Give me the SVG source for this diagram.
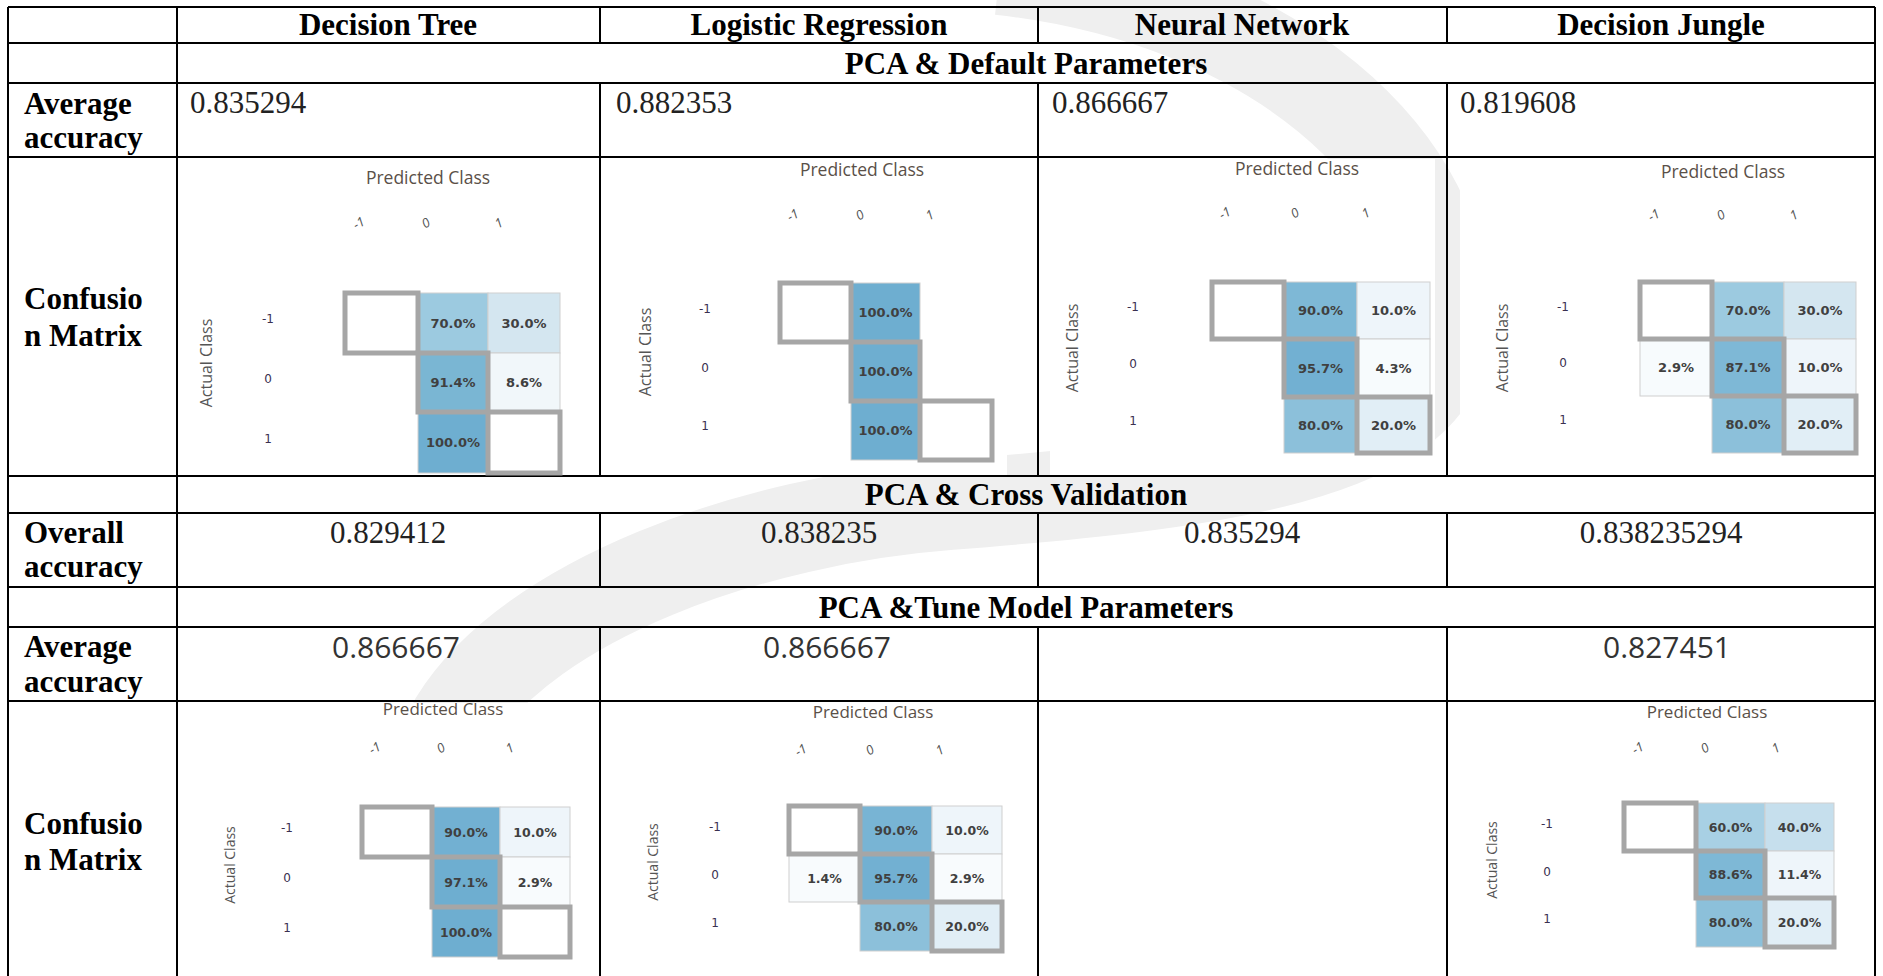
<svg xmlns="http://www.w3.org/2000/svg" width="1883" height="976" viewBox="0 0 1883 976">
<style>
.hd{font-family:"Liberation Serif",serif;font-weight:bold;font-size:31px;fill:#000}
.val{font-family:"Liberation Serif",serif;font-size:31px;fill:#222}
.sval{font-family:"Open Sans",sans-serif;font-size:30px;fill:#333}
.pc{font-family:"Open Sans",sans-serif;font-size:17.5px;fill:#5a5048}
.pcs{font-family:"Open Sans",sans-serif;font-size:17px;fill:#5a5048}
.ac{font-family:"Open Sans",sans-serif;font-size:16px;fill:#555}
.acs{font-family:"Open Sans",sans-serif;font-size:14px;fill:#555}
.cl{font-family:"Open Sans",sans-serif;font-size:13px;font-style:italic;fill:#555}
.rl{font-family:"DejaVu Sans",sans-serif;font-size:12px;fill:#3a3050}
.ct{font-family:"DejaVu Sans",sans-serif;font-weight:bold;font-size:13px;fill:#404040;text-anchor:middle}
.cts{font-family:"DejaVu Sans",sans-serif;font-weight:bold;font-size:12.5px;fill:#404040;text-anchor:middle}
.thin{stroke:#cfcfcf;stroke-width:1}
.thick{stroke:#a6a6a6;stroke-width:5}
.grid{stroke:#000;stroke-width:2;fill:none}
.mid{text-anchor:middle}
.wm{fill:none;stroke:#efefef;stroke-width:90}
.shot{fill:#fff}
</style>
<rect width="1883" height="976" fill="#fff"/>

<g id="watermark">
<path class="wm" d="M1000,-30 C1270,0 1455,160 1445,330 C1440,460 1200,485 950,505 C750,520 530,600 455,720 C400,820 440,940 560,995"/>
</g>

<g id="screenshots">
<rect class="shot" x="180" y="159" width="402" height="316"/>
<rect class="shot" x="615" y="159" width="392" height="316"/>
<rect class="shot" x="1050" y="159" width="385" height="316"/>
<rect class="shot" x="1460" y="159" width="414" height="316"/>
<rect class="shot" x="180" y="703" width="410" height="273"/>
<rect class="shot" x="615" y="703" width="422" height="273"/>
<rect class="shot" x="1449" y="703" width="425" height="273"/>
</g>

<g id="connectors">
<path class="grid" d="M8,7H1875M8,43H1875M8,83H1875M8,157H1875M8,476H1875M8,513H1875M8,587H1875M8,627H1875M8,701H1875
M8,7V976M177,7V976M1875,7V976
M600,7V43M1038,7V43M1447,7V43
M600,83V476M1038,83V476M1447,83V476
M600,513V587M1038,513V587M1447,513V587
M600,627V976M1038,627V976M1447,627V976"/>
</g>

<g id="header">
<text class="hd mid" x="388" y="35">Decision Tree</text>
<text class="hd mid" x="819" y="35">Logistic Regression</text>
<text class="hd mid" x="1242" y="35">Neural Network</text>
<text class="hd mid" x="1661" y="35">Decision Jungle</text>
</g>

<g id="section-default"><text class="hd mid" x="1026" y="74">PCA &amp; Default Parameters</text></g>
<g id="section-cv"><text class="hd mid" x="1026" y="505">PCA &amp; Cross Validation</text></g>
<g id="section-tune"><text class="hd mid" x="1026" y="618">PCA &amp;Tune Model Parameters</text></g>

<g id="row-labels">
<text class="hd" x="24" y="114">Average</text>
<text class="hd" x="24" y="148">accuracy</text>
<text class="hd" x="24" y="309">Confusio</text>
<text class="hd" x="24" y="346">n Matrix</text>
<text class="hd" x="24" y="543">Overall</text>
<text class="hd" x="24" y="577">accuracy</text>
<text class="hd" x="24" y="657">Average</text>
<text class="hd" x="24" y="692">accuracy</text>
<text class="hd" x="24" y="834">Confusio</text>
<text class="hd" x="24" y="870">n Matrix</text>
</g>

<g id="values-default">
<text class="val" x="190" y="113">0.835294</text>
<text class="val" x="616" y="113">0.882353</text>
<text class="val" x="1052" y="113">0.866667</text>
<text class="val" x="1460" y="113">0.819608</text>
</g>
<g id="values-cv">
<text class="val mid" x="388" y="543">0.829412</text>
<text class="val mid" x="819" y="543">0.838235</text>
<text class="val mid" x="1242" y="543">0.835294</text>
<text class="val mid" x="1661" y="543">0.838235294</text>
</g>
<g id="values-tune">
<text class="sval mid" x="396" y="658">0.866667</text>
<text class="sval mid" x="827" y="658">0.866667</text>
<text class="sval mid" x="1667" y="658">0.827451</text>
</g>

<g id="cm-dt-default">
<text class="pc mid" x="428" y="184">Predicted Class</text>
<text class="cl mid" transform="translate(361,227) rotate(-30)">-1</text>
<text class="cl mid" transform="translate(428,227) rotate(-30)">0</text>
<text class="cl mid" transform="translate(501,227) rotate(-30)">1</text>
<text class="ac mid" transform="translate(212,363) rotate(-90)">Actual Class</text>
<text class="rl mid" x="268" y="323">-1</text>
<text class="rl mid" x="268" y="383">0</text>
<text class="rl mid" x="268" y="443">1</text>
<rect class="thin" x="418" y="293" width="70" height="60" fill="#9ccae0"/>
<rect class="thin" x="488" y="293" width="72" height="60" fill="#d4e6f0"/>
<rect class="thin" x="488" y="353" width="72" height="59" fill="#f1f7fa"/>
<rect class="thin" x="418" y="412" width="70" height="61" fill="#6eaed0"/>
<rect class="thick" x="345" y="293" width="73" height="60" fill="#fff"/>
<rect class="thick" x="418" y="353" width="70" height="59" fill="#7ab6d3"/>
<rect class="thick" x="488" y="412" width="72" height="61" fill="#fff"/>
<text class="ct" x="453" y="328">70.0%</text>
<text class="ct" x="524" y="328">30.0%</text>
<text class="ct" x="453" y="387">91.4%</text>
<text class="ct" x="524" y="387">8.6%</text>
<text class="ct" x="453" y="447">100.0%</text>
</g>

<g id="cm-lr-default">
<text class="pc mid" x="862" y="176">Predicted Class</text>
<text class="cl mid" transform="translate(795,219) rotate(-30)">-1</text>
<text class="cl mid" transform="translate(862,219) rotate(-30)">0</text>
<text class="cl mid" transform="translate(932,219) rotate(-30)">1</text>
<text class="ac mid" transform="translate(651,352) rotate(-90)">Actual Class</text>
<text class="rl mid" x="705" y="313">-1</text>
<text class="rl mid" x="705" y="372">0</text>
<text class="rl mid" x="705" y="430">1</text>
<rect class="thin" x="851" y="283" width="69" height="59" fill="#6eaed0"/>
<rect class="thin" x="851" y="401" width="69" height="59" fill="#6eaed0"/>
<rect class="thick" x="780" y="283" width="71" height="59" fill="#fff"/>
<rect class="thick" x="851" y="342" width="69" height="59" fill="#6eaed0"/>
<rect class="thick" x="920" y="401" width="72" height="59" fill="#fff"/>
<text class="ct" x="885.5" y="317">100.0%</text>
<text class="ct" x="885.5" y="376">100.0%</text>
<text class="ct" x="885.5" y="435">100.0%</text>
</g>

<g id="cm-nn-default">
<text class="pc mid" x="1297" y="175">Predicted Class</text>
<text class="cl mid" transform="translate(1227,217) rotate(-30)">-1</text>
<text class="cl mid" transform="translate(1297,217) rotate(-30)">0</text>
<text class="cl mid" transform="translate(1368,217) rotate(-30)">1</text>
<text class="ac mid" transform="translate(1078,348) rotate(-90)">Actual Class</text>
<text class="rl mid" x="1133" y="311">-1</text>
<text class="rl mid" x="1133" y="368">0</text>
<text class="rl mid" x="1133" y="425">1</text>
<rect class="thin" x="1284" y="282" width="73" height="57" fill="#7eb8d6"/>
<rect class="thin" x="1357" y="282" width="73" height="57" fill="#eef5fa"/>
<rect class="thin" x="1357" y="339" width="73" height="58" fill="#f7fbfd"/>
<rect class="thin" x="1284" y="397" width="73" height="56" fill="#8cc0da"/>
<rect class="thick" x="1212" y="282" width="72" height="57" fill="#fff"/>
<rect class="thick" x="1284" y="339" width="73" height="58" fill="#72b0d2"/>
<rect class="thick" x="1357" y="397" width="73" height="56" fill="#e1eef6"/>
<text class="ct" x="1320.5" y="315">90.0%</text>
<text class="ct" x="1393.5" y="315">10.0%</text>
<text class="ct" x="1320.5" y="372.5">95.7%</text>
<text class="ct" x="1393.5" y="372.5">4.3%</text>
<text class="ct" x="1320.5" y="429.5">80.0%</text>
<text class="ct" x="1393.5" y="429.5">20.0%</text>
</g>

<g id="cm-dj-default">
<text class="pc mid" x="1723" y="178">Predicted Class</text>
<text class="cl mid" transform="translate(1656,219) rotate(-30)">-1</text>
<text class="cl mid" transform="translate(1723,219) rotate(-30)">0</text>
<text class="cl mid" transform="translate(1796,219) rotate(-30)">1</text>
<text class="ac mid" transform="translate(1508,348) rotate(-90)">Actual Class</text>
<text class="rl mid" x="1563" y="311">-1</text>
<text class="rl mid" x="1563" y="367">0</text>
<text class="rl mid" x="1563" y="424">1</text>
<rect class="thin" x="1712" y="282" width="72" height="57" fill="#9ccae0"/>
<rect class="thin" x="1784" y="282" width="72" height="57" fill="#d4e6f0"/>
<rect class="thin" x="1640" y="339" width="72" height="57" fill="#f7fbfd"/>
<rect class="thin" x="1784" y="339" width="72" height="57" fill="#eef5fa"/>
<rect class="thin" x="1712" y="396" width="72" height="57" fill="#8cc0da"/>
<rect class="thick" x="1640" y="282" width="72" height="57" fill="#fff"/>
<rect class="thick" x="1712" y="339" width="72" height="57" fill="#7eb8d6"/>
<rect class="thick" x="1784" y="396" width="72" height="57" fill="#e1eef6"/>
<text class="ct" x="1748" y="315">70.0%</text>
<text class="ct" x="1820" y="315">30.0%</text>
<text class="ct" x="1676" y="372">2.9%</text>
<text class="ct" x="1748" y="372">87.1%</text>
<text class="ct" x="1820" y="372">10.0%</text>
<text class="ct" x="1748" y="429">80.0%</text>
<text class="ct" x="1820" y="429">20.0%</text>
</g>

<g id="cm-dt-tune">
<text class="pcs mid" x="443" y="715">Predicted Class</text>
<text class="cl mid" transform="translate(377,752) rotate(-30)">-1</text>
<text class="cl mid" transform="translate(443,752) rotate(-30)">0</text>
<text class="cl mid" transform="translate(512,752) rotate(-30)">1</text>
<text class="acs mid" transform="translate(235,865) rotate(-90)">Actual Class</text>
<text class="rl mid" x="287" y="832">-1</text>
<text class="rl mid" x="287" y="882">0</text>
<text class="rl mid" x="287" y="932">1</text>
<rect class="thin" x="432" y="807" width="68" height="50" fill="#72b0d2"/>
<rect class="thin" x="500" y="807" width="70" height="50" fill="#eef5fa"/>
<rect class="thin" x="500" y="857" width="70" height="50" fill="#f8fbfd"/>
<rect class="thin" x="432" y="907" width="68" height="50" fill="#6eaed0"/>
<rect class="thick" x="362" y="807" width="70" height="50" fill="#fff"/>
<rect class="thick" x="432" y="857" width="68" height="50" fill="#6eaed0"/>
<rect class="thick" x="500" y="907" width="70" height="50" fill="#fff"/>
<text class="cts" x="466" y="836.5">90.0%</text>
<text class="cts" x="535" y="836.5">10.0%</text>
<text class="cts" x="466" y="886.5">97.1%</text>
<text class="cts" x="535" y="886.5">2.9%</text>
<text class="cts" x="466" y="936.5">100.0%</text>
</g>

<g id="cm-lr-tune">
<text class="pcs mid" x="873" y="718">Predicted Class</text>
<text class="cl mid" transform="translate(803,754) rotate(-30)">-1</text>
<text class="cl mid" transform="translate(872,754) rotate(-30)">0</text>
<text class="cl mid" transform="translate(942,754) rotate(-30)">1</text>
<text class="acs mid" transform="translate(658,862) rotate(-90)">Actual Class</text>
<text class="rl mid" x="715" y="831">-1</text>
<text class="rl mid" x="715" y="879">0</text>
<text class="rl mid" x="715" y="927">1</text>
<rect class="thin" x="860" y="806" width="72" height="48" fill="#78b4d4"/>
<rect class="thin" x="932" y="806" width="70" height="48" fill="#eef5fa"/>
<rect class="thin" x="789" y="854" width="71" height="48" fill="#f8fbfd"/>
<rect class="thin" x="932" y="854" width="70" height="48" fill="#f8fbfd"/>
<rect class="thin" x="860" y="902" width="72" height="49" fill="#8cc0da"/>
<rect class="thick" x="789" y="806" width="71" height="48" fill="#fff"/>
<rect class="thick" x="860" y="854" width="72" height="48" fill="#72b0d2"/>
<rect class="thick" x="932" y="902" width="70" height="49" fill="#e1eef6"/>
<text class="cts" x="896" y="834.5">90.0%</text>
<text class="cts" x="967" y="834.5">10.0%</text>
<text class="cts" x="824.5" y="882.5">1.4%</text>
<text class="cts" x="896" y="882.5">95.7%</text>
<text class="cts" x="967" y="882.5">2.9%</text>
<text class="cts" x="896" y="931">80.0%</text>
<text class="cts" x="967" y="931">20.0%</text>
</g>

<g id="cm-dj-tune">
<text class="pcs mid" x="1707" y="718">Predicted Class</text>
<text class="cl mid" transform="translate(1640,752) rotate(-30)">-1</text>
<text class="cl mid" transform="translate(1707,752) rotate(-30)">0</text>
<text class="cl mid" transform="translate(1778,752) rotate(-30)">1</text>
<text class="acs mid" transform="translate(1497,860) rotate(-90)">Actual Class</text>
<text class="rl mid" x="1547" y="828">-1</text>
<text class="rl mid" x="1547" y="876">0</text>
<text class="rl mid" x="1547" y="923">1</text>
<rect class="thin" x="1696" y="803" width="69" height="48" fill="#a8d0e4"/>
<rect class="thin" x="1765" y="803" width="69" height="48" fill="#c6dfed"/>
<rect class="thin" x="1765" y="851" width="69" height="47" fill="#eef5fa"/>
<rect class="thin" x="1696" y="898" width="69" height="49" fill="#8cc0da"/>
<rect class="thick" x="1624" y="803" width="72" height="48" fill="#fff"/>
<rect class="thick" x="1696" y="851" width="69" height="47" fill="#7eb8d6"/>
<rect class="thick" x="1765" y="898" width="69" height="49" fill="#e1eef6"/>
<text class="cts" x="1730.5" y="831.5">60.0%</text>
<text class="cts" x="1799.5" y="831.5">40.0%</text>
<text class="cts" x="1730.5" y="879">88.6%</text>
<text class="cts" x="1799.5" y="879">11.4%</text>
<text class="cts" x="1730.5" y="927">80.0%</text>
<text class="cts" x="1799.5" y="927">20.0%</text>
</g>
</svg>
